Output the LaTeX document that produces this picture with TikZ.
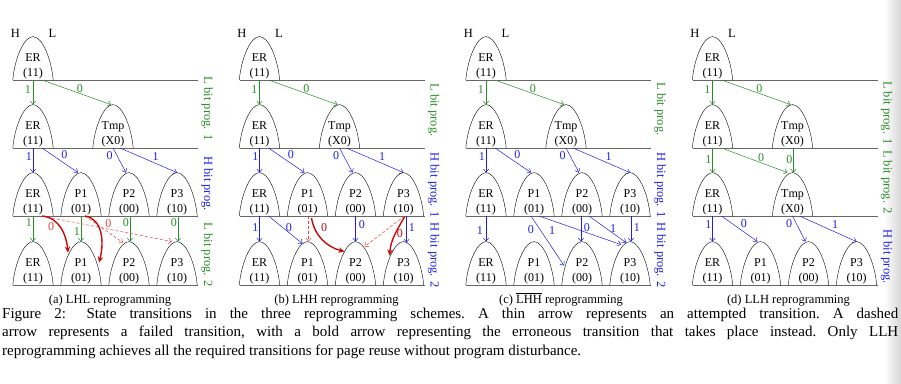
\documentclass[tikz,border=0pt]{standalone}
\usepackage{fontspec}
\setmainfont{Liberation Serif}
\usetikzlibrary{calc,arrows.meta}

\definecolor{lgreen}{RGB}{40,140,40}
\definecolor{hblue}{RGB}{30,30,230}
\definecolor{failred}{RGB}{232,64,64}
\definecolor{wrongred}{RGB}{200,10,10}

\newcommand\stlbl[2]{\vbox{\baselineskip=15pt\halign{\hfil##\hfil\cr#1\cr#2\cr}}}

\tikzset{
  pstate/.style={rectangle, inner sep=0pt, minimum width=40pt, minimum height=43pt,
    text height=37pt, text depth=0pt, anchor=south,
    font=\fontsize{12}{15}\selectfont,
    append after command={(\tikzlastnode.south west)
      .. controls +(2,22) and +(-9,0) .. (\tikzlastnode.north)
      .. controls +(9,0) and +(-2,22) .. (\tikzlastnode.south east)}},
  cellrow/.style={black!60, line width=1pt},
  arr/.style={-{Straight Barb[length=3.2pt,width=5.5pt]}, line width=0.5pt},
  lprog/.style={arr, lgreen},
  hprog/.style={arr, hblue},
  failed/.style={arr, failred, dash pattern=on 3pt off 2pt},
  wrong/.style={-{Stealth[length=6pt,width=5.5pt]}, wrongred, line width=1.4pt},
  lbl/.style={font=\fontsize{12}{14}\selectfont, inner sep=1pt},
  hl/.style={font=\fontsize{12.5}{15}\selectfont, inner sep=0pt, anchor=base},
  progtag/.style={font=\fontsize{12.5}{15}\selectfont, rotate=-90, inner sep=0pt},
  subcap/.style={font=\fontsize{12.5}{15}\selectfont, inner sep=0pt, anchor=base},
}

\begin{document}
\begin{tikzpicture}[x=1pt,y=1pt]
  \useasboundingbox (0,0) rectangle (901,-383);
  \shade[left color=white, right color=black!16] (884,0) rectangle (901,-383);

  % rows, ER and Tmp, first L bit step (same in all four)
  \foreach \p/\dx in {a/0,b/226.5,c/453,d/679.5}{
    \begin{scope}[xshift=\dx]
      \foreach \y in {80,148,216,285}
        \draw[cellrow] (13,-\y) -- (198,-\y);
      \draw
        (33,-80) node[pstate] (\p1er) {\stlbl{ER}{(11)}}
        (33,-148) node[pstate] (\p2er) {\stlbl{ER}{(11)}}
        (113,-148) node[pstate] (\p2tmp) {\stlbl{Tmp}{(X0)}};
      \node[hl] (\p h) at (15.5,-37.3) {H};
      \node[hl] (\p l) at (52.5,-37.3) {L};
      \draw[lprog] (\p1er.south) -- node[lbl, left=1pt, pos=0.4] {1} (\p2er.north);
      \draw[lprog] ($(\p1er.south)+(9,0)$) -- node[lbl, above, pos=0.55] {0} ($(\p2tmp.north)+(-2,0)$);
    \end{scope}
  }
  \foreach \p/\dx in {a/0,b/226.5,c/453}{
    \begin{scope}[xshift=\dx]
      \draw
        (33,-216) node[pstate] (\p3er) {\stlbl{ER}{(11)}}
        (81,-216) node[pstate] (\p3p1) {\stlbl{P1}{(01)}}
        (129,-216) node[pstate] (\p3p2) {\stlbl{P2}{(00)}}
        (177,-216) node[pstate] (\p3p3) {\stlbl{P3}{(10)}};
    \end{scope}
  }
  \begin{scope}[xshift=679.5]
    \draw
      (33,-216) node[pstate] (d3er) {\stlbl{ER}{(11)}}
      (113,-216) node[pstate] (d3tmp) {\stlbl{Tmp}{(X0)}};
  \end{scope}
  \foreach \p/\dx in {a/0,b/226.5,c/453,d/679.5}{
    \begin{scope}[xshift=\dx]
      \draw
        (33,-285) node[pstate] (\p4er) {\stlbl{ER}{(11)}}
        (81,-285) node[pstate] (\p4p1) {\stlbl{P1}{(01)}}
        (129,-285) node[pstate] (\p4p2) {\stlbl{P2}{(00)}}
        (177,-285) node[pstate] (\p4p3) {\stlbl{P3}{(10)}};
    \end{scope}
  }

  % H bit step into P1..P3
  \foreach \p/\ra/\rb in {a/2/3,b/2/3,c/2/3,d/3/4}{
    \draw[hprog] (\p\ra er.south) -- node[lbl, left, pos=0.35] {1} (\p\rb er.north);
    \draw[hprog] ($(\p\ra er.south)+(9,0)$) -- node[lbl, above right, pos=0.5] {0} ($(\p\rb p1.north)+(-3,0)$);
    \draw[hprog] (\p\ra tmp.south) -- node[lbl, left=3pt, pos=0.3] {0} ($(\p\rb p2.north)+(-3,0)$);
    \draw[hprog] ($(\p\ra tmp.south)+(7,0)$) -- node[lbl, above right, pos=0.55] {1} (\p\rb p3.north);
  }

  % (a) second L bit step
  \draw[lprog] (a3er.south) -- node[lbl, left, pos=0.25] {1} (a4er.north);
  \draw[lprog] (a3p1.south) -- node[lbl, left, pos=0.6] {1} (a4p1.north);
  \draw[lprog] ($(a3p2.south)+(1,0)$) -- node[lbl, left, pos=0.25] {0} ($(a4p2.north)+(1,0)$);
  \draw[lprog] ($(a3p3.south)+(1,0)$) -- node[lbl, left, pos=0.25] {0} ($(a4p3.north)+(1,0)$);
  \draw[failed] ($(a3er.south)+(9,0)$) -- node[lbl, below=3pt, pos=0.07] {0} ($(a4p3.north)+(-5,0)$);
  \draw[failed] ($(a3p1.south)+(4,0)$) -- node[lbl, above right, pos=0.5] {0} ($(a4p2.north)+(-6,-1)$);
  \draw[wrong] ($(a3er.south)+(9,0)$) to[out=-5, in=95] ($(a4p1.north)+(-13,-11)$);
  \draw[wrong] ($(a3p1.south)+(4,0)$) to[out=-10, in=75] ($(a4p1.north)+(18,-21)$);

  % (b) second H bit step
  \draw[hprog] (b3er.south) -- node[lbl, left, pos=0.45] {1} (b4er.north);
  \draw[hprog] ($(b3er.south)+(9,0)$) -- node[lbl, above, pos=0.6] {0} ($(b4p1.north)+(-5,-2)$);
  \draw[failed] ($(b3p1.south)+(1,0)$) -- ($(b4p1.north)+(1,0)$);
  \draw[wrong] ($(b3p1.south)+(4,-2)$) to[out=-80, in=165] node[lbl, right=5pt, pos=0.2] {0} ($(b4p2.north)+(-11,-10)$);
  \draw[hprog] (b3p2.south) -- node[lbl, right=2pt, pos=0.35] {0} (b4p2.north);
  \draw[failed] ($(b3p3.south)+(1,0)$) -- ($(b4p2.north)+(9,-5)$);
  \draw[wrong] ($(b3p3.south)+(1,-1)$) to[out=-120, in=85] node[lbl, right, pos=0.45] {0} ($(b4p3.north)+(-14,-14)$);
  \draw[hprog] ($(b3p3.south)+(3,0)$) -- node[lbl, right=1pt, pos=0.45] {1} ($(b4p3.north)+(3,-1)$);

  % (c) second H bit step
  \draw[hprog] (c3er.south) -- node[lbl, left=2pt, pos=0.55] {1} (c4er.north);
  \draw[hprog] ($(c3p1.south)+(-3,0)$) -- node[lbl, left=5pt, pos=0.28] {0} ($(c4p2.north)+(-18,-24)$);
  \draw[hprog] ($(c3p1.south)+(5,0)$) -- node[lbl, below=5pt, pos=0.16] {1} ($(c4p3.north)+(-9,-3)$);
  \draw[hprog] ($(c3p2.south)+(-1,0)$) -- node[lbl, right=1.5pt, pos=0.45] {0} ($(c4p2.north)+(-1,0)$);
  \draw[hprog] ($(c3p2.south)+(7,0)$) -- node[lbl, above, pos=0.65] {1} ($(c4p3.north)+(-4,-1)$);
  \draw[hprog] ($(c3p3.south)+(1,0)$) -- node[lbl, right=1.5pt, pos=0.45] {1} ($(c4p3.north)+(1,0)$);

  % (d) second L bit step
  \draw[lprog] (d2er.south) -- node[lbl, left, pos=0.45] {1} (d3er.north);
  \draw[lprog] ($(d2er.south)+(9,0)$) -- node[lbl, above, pos=0.6] {0} ($(d3tmp.north)+(-5,0)$);
  \draw[lprog] ($(d2tmp.south)+(1,0)$) -- node[lbl, left, pos=0.45] {0} ($(d3tmp.north)+(1,0)$);

  % step tags and sub-captions
  \node[progtag, lgreen] (atag1) at (207,-108.5) {L bit prog. 1};
  \node[progtag, hblue] (atag2) at (207,-183.5) {H bit prog.};
  \node[progtag, lgreen] (atag3) at (207,-254.5) {L bit prog. 2};
  \node[subcap] (acap) at (110,-303) {(a) LHL reprogramming};
  \begin{scope}[xshift=226.5]
    \node[progtag, lgreen] (btag1) at (207,-110) {L bit prog.};
    \node[progtag, hblue] (btag2) at (207,-185) {H bit prog. 1};
    \node[progtag, hblue] (btag3) at (207,-255) {H bit prog. 2};
    \node[subcap] (bcap) at (110,-303) {(b) LHH reprogramming};
  \end{scope}
  \begin{scope}[xshift=453]
    \node[progtag, lgreen] (ctag1) at (207,-109) {L bit prog.};
    \node[progtag, hblue] (ctag2) at (207,-185) {H bit prog. 1};
    \node[progtag, hblue] (ctag3) at (207,-255) {H bit prog. 2};
    \node[subcap] (ccap) at (108,-303) {(c) $\overline{\mbox{LHH}}$ reprogramming};
  \end{scope}
  \begin{scope}[xshift=679.5]
    \node[progtag, lgreen] (dtag1) at (207,-113) {L bit prog. 1};
    \node[progtag, lgreen] (dtag2) at (207,-182) {L bit prog. 2};
    \node[progtag, hblue] (dtag3) at (207,-256.5) {H bit prog.};
    \node[subcap] (dcap) at (109,-303) {(d) LLH reprogramming};
  \end{scope}

  \node[anchor=north west, inner sep=0pt, text width=896pt, align=justify,
        font=\fontsize{15}{18.5}\selectfont\frenchspacing] (figcap) at (2,-307.5)
    {Figure~2:\hspace{0.5em} State transitions in the three reprogramming schemes. A thin arrow represents an attempted transition. A dashed\linebreak arrow represents a failed transition, with a bold arrow representing the erroneous transition that takes place instead. Only LLH\linebreak reprogramming achieves all the required transitions for page reuse without program disturbance.};
\end{tikzpicture}
\end{document}
